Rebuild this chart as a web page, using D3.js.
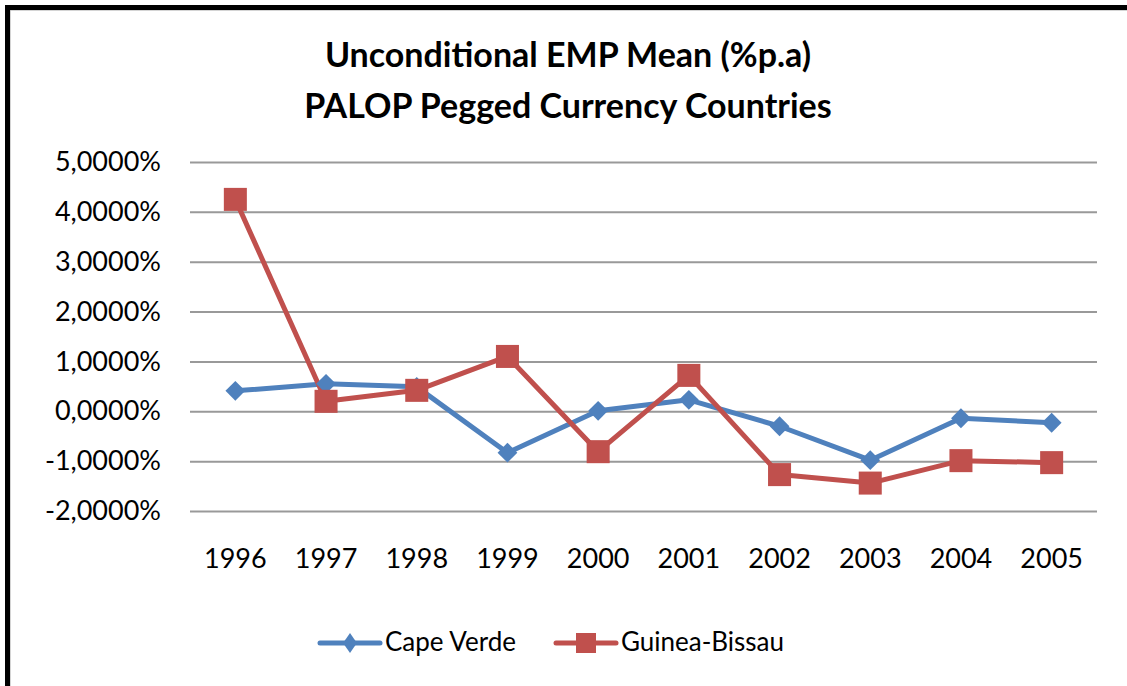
<!DOCTYPE html>
<html>
<head>
<meta charset="utf-8">
<script src="https://cdn.jsdelivr.net/npm/d3@7"></script>
<style>
  html, body { margin: 0; padding: 0; background: #fff; }
  svg { display: block; }
  text { font-family: Lato, "Open Sans", sans-serif; fill: #000; }
</style>
</head>
<body>
<svg id="chart"></svg>
<script>
var _W = 1127,
  _H = 686,
  _LEFT = 190,
  _RIGHT = 1097,
  _TOP = 162,
  _BOTTOM = 511;

var years = ['1996', '1997', '1998', '1999', '2000', '2001', '2002', '2003', '2004', '2005'];
var capeVerde = [0.41, 0.55, 0.49, -0.83, 0.01, 0.23, -0.30, -0.98, -0.14, -0.23];
var guineaBissau = [4.25, 0.20, 0.42, 1.10, -0.81, 0.72, -1.27, -1.44, -0.99, -1.03];
var yTicks = [-2, -1, 0, 1, 2, 3, 4, 5];
var titleLines = ['Unconditional EMP Mean (%p.a)', 'PALOP Pegged Currency Countries'];

var series = [
  { name: 'Cape Verde', values: capeVerde, color: '#4F81BD', marker: 'diamond' },
  { name: 'Guinea-Bissau', values: guineaBissau, color: '#C0504D', marker: 'square' }
];

var svg = d3.select('#chart')
  .attr('width', _W)
  .attr('height', _H);

// frame (cut off at the right and bottom in the original)
svg.append('rect')
  .attr('x', 9).attr('y', 9)
  .attr('width', _W + 20).attr('height', _H + 20)
  .style('fill', 'none')
  .style('stroke', '#aaa')
  .style('stroke-width', 3);
svg.append('rect')
  .attr('x', 7.5).attr('y', 7.5)
  .attr('width', _W + 20).attr('height', _H + 20)
  .style('fill', 'none')
  .style('stroke', '#000')
  .style('stroke-width', 5);

svg.selectAll('.title')
  .data(titleLines)
  .enter()
  .append('text')
  .attr('class', 'title')
  .attr('x', 568)
  .attr('y', function(d, i) { return 67 + i * 51; })
  .attr('text-anchor', 'middle')
  .style('font-size', '34px')
  .style('font-weight', 'bold')
  .text(function(d) { return d; });

var x = d3.scaleBand()
  .domain(years)
  .range([_LEFT, _RIGHT]);

var y = d3.scaleLinear()
  .domain([-2, 5])
  .range([_BOTTOM, _TOP]);

var locale = d3.formatLocale({ decimal: ',', thousands: '.', grouping: [3], currency: ['', ''], minus: '-' });
var fmt = locale.format('.4f');

// gridlines + y labels
var yAxis = d3.axisLeft(y)
  .tickValues(yTicks)
  .tickSize(-(_RIGHT - _LEFT))
  .tickPadding(29)
  .tickFormat(function(d) { return fmt(d) + '%'; });

var gy = svg.append('g')
  .attr('transform', 'translate(' + _LEFT + ',0)')
  .call(yAxis);
gy.select('.domain').remove();
gy.selectAll('.tick line')
  .style('stroke', '#999')
  .style('stroke-width', 2);
gy.selectAll('.tick text')
  .style('font-size', '27px')
  .style('font-family', 'Lato, "Open Sans", sans-serif')
  .attr('fill', '#000');

// x labels
var xAxis = d3.axisBottom(x).tickSize(0).tickPadding(38);
var gx = svg.append('g')
  .attr('transform', 'translate(0,' + _BOTTOM + ')')
  .call(xAxis);
gx.select('.domain').remove();
gx.selectAll('.tick text')
  .style('font-size', '27px')
  .style('font-family', 'Lato, "Open Sans", sans-serif')
  .attr('fill', '#000');

function cx(i) { return x(years[i]) + x.bandwidth() / 2; }

var line = d3.line()
  .x(function(d, i) { return cx(i); })
  .y(function(d) { return y(d); });

var diamond = d3.symbol().type(d3.symbolDiamond2).size(250);
var square = d3.symbol().type(d3.symbolSquare).size(530);

series.forEach(function(s) {
  svg.append('path')
    .datum(s.values)
    .attr('d', line)
    .style('fill', 'none')
    .style('stroke', s.color)
    .style('stroke-width', 5)
    .style('stroke-linejoin', 'round');
});

series.forEach(function(s) {
  svg.selectAll(null)
    .data(s.values)
    .enter()
    .append('path')
    .attr('transform', function(d, i) { return 'translate(' + cx(i) + ',' + y(d) + ')'; })
    .attr('d', s.marker === 'diamond' ? diamond : square)
    .style('fill', s.color);
});

// legend
var legendX = [320, 556];
var lg = svg.selectAll('.legend')
  .data(series)
  .enter()
  .append('g')
  .attr('class', 'legend')
  .attr('transform', function(d, i) { return 'translate(' + legendX[i] + ',643)'; });

lg.append('line')
  .attr('x1', 0).attr('x2', 60)
  .attr('y1', 0).attr('y2', 0)
  .style('stroke', function(d) { return d.color; })
  .style('stroke-width', 5)
  .style('stroke-linecap', 'round');

lg.append('path')
  .attr('transform', function(d) { return d.marker === 'diamond' ? 'translate(30,0) scale(0.7,1)' : 'translate(30,0)'; })
  .attr('d', function(d) { return d.marker === 'diamond' ? diamond() : d3.symbol().type(d3.symbolSquare).size(400)(); })
  .style('fill', function(d) { return d.color; });

lg.append('text')
  .attr('x', 65)
  .attr('y', 8)
  .style('font-size', '26px')
  .text(function(d) { return d.name; });
</script>
</body>
</html>
